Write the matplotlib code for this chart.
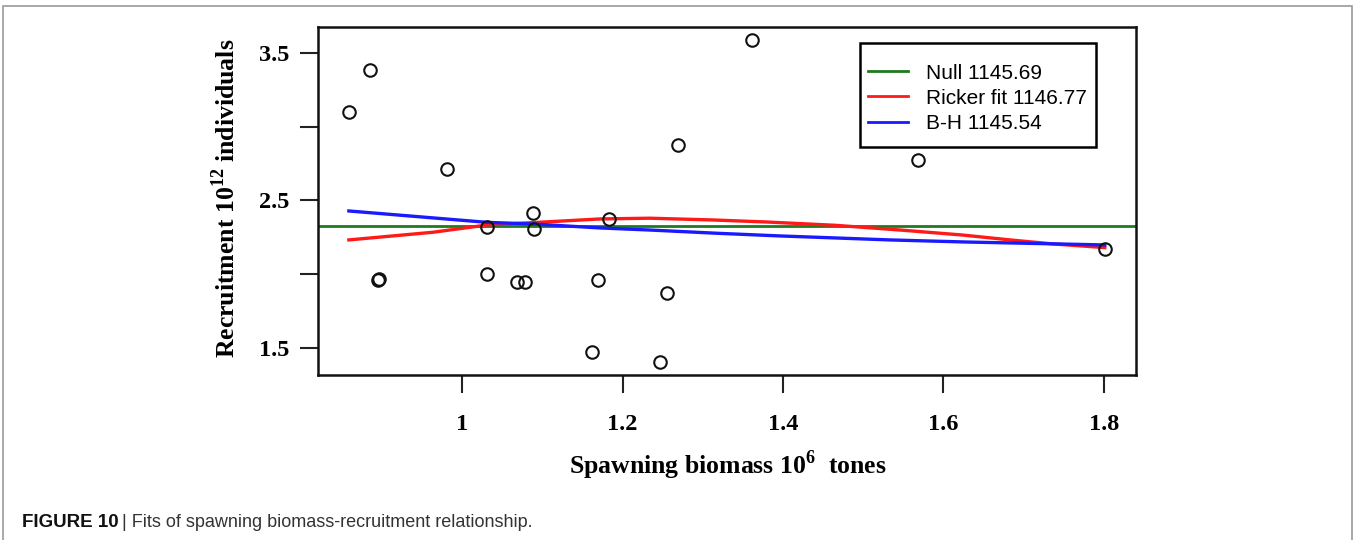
import matplotlib
matplotlib.use("Agg")
import matplotlib.pyplot as plt
from matplotlib.patches import Rectangle

# spawning biomass (10^6 t) and recruitment (10^12 ind.)
biomass = [0.859, 0.885, 0.895, 0.897, 0.981, 1.031, 1.031, 1.068, 1.079, 1.088,
           1.090, 1.162, 1.169, 1.183, 1.247, 1.255, 1.269, 1.361, 1.568, 1.801]
recruits = [3.098, 3.383, 1.964, 1.966, 2.712, 2.319, 2.001, 1.949, 1.949, 2.415,
            2.307, 1.473, 1.964, 2.377, 1.409, 1.872, 2.878, 3.586, 2.774, 2.170]

null_level = 2.325

ricker_x = [0.859, 0.964, 1.031, 1.088, 1.172, 1.234, 1.313, 1.381, 1.465, 1.546,
            1.624, 1.683, 1.736, 1.801]
ricker_y = [2.233, 2.285, 2.334, 2.350, 2.375, 2.380, 2.368, 2.354, 2.332, 2.300,
            2.266, 2.233, 2.206, 2.181]

bh_x = [0.859, 1.031, 1.088, 1.172, 1.234, 1.318, 1.396, 1.467, 1.533, 1.627,
        1.741, 1.801]
bh_y = [2.429, 2.352, 2.341, 2.314, 2.300, 2.278, 2.260, 2.246, 2.233, 2.219,
        2.206, 2.199]

legend_labels = ["Null 1145.69", "Ricker fit 1146.77", "B-H 1145.54"]
yticks = [1.5, 2.0, 2.5, 3.0, 3.5]
ytick_labels = ["1.5", "", "2.5", "", "3.5"]
xticks = [1.0, 1.2, 1.4, 1.6, 1.8]
xtick_labels = ["1", "1.2", "1.4", "1.6", "1.8"]

plt.rcParams["mathtext.fontset"] = "custom"
plt.rcParams["mathtext.rm"] = "Liberation Serif:bold"
plt.rcParams["mathtext.bf"] = "Liberation Serif:bold"

tick_font = {"family": "Liberation Serif", "weight": "bold", "size": 17.5}
label_font = {"family": "Liberation Serif", "weight": "bold", "size": 18.5}

fig = plt.figure(figsize=(13.54, 5.40), dpi=100)
ax = fig.add_axes([0.2349, 0.3056, 0.6041, 0.6444])

# grey frame round the whole figure
fig.patches.append(Rectangle((3 / 1354, -0.01), 1349 / 1354, 1 - 6 / 540 + 0.01,
                             transform=fig.transFigure, fill=False,
                             edgecolor="#9a9a9a", lw=1.2))

l1 = ax.axhline(null_level, color="#1f7a1f", lw=2.0)
l2, = ax.plot(ricker_x, ricker_y, color="#ff1a1a", lw=2.4)
l3, = ax.plot(bh_x, bh_y, color="#1a1aff", lw=2.4)
ax.plot(biomass, recruits, "o", mfc="none", mec="#111", ms=9, mew=1.5)

ax.set_xlim(0.8206, 1.8399)
ax.set_ylim(1.319, 3.674)

ax.set_xticks(xticks)
ax.set_xticklabels(xtick_labels, fontdict=tick_font)
ax.set_yticks(yticks)
ax.set_yticklabels(ytick_labels, fontdict=tick_font)
ax.tick_params(axis="both", direction="out", length=13, width=1.5, color="#222")
ax.tick_params(axis="x", pad=15)
ax.tick_params(axis="y", pad=8)
for s in ax.spines.values():
    s.set_linewidth(1.8)
    s.set_color("#111")

ax.set_xlabel(r"Spawning biomass 10$^{6}$  tones", fontdict=label_font)
ax.xaxis.set_label_coords(0.501, -0.21)
ax.set_ylabel(r"Recruitment 10$^{12}$ individuals", fontdict=label_font)
ax.yaxis.set_label_coords(-0.095, 0.509)

leg = ax.legend([l1, l2, l3], legend_labels, loc="upper left",
                bbox_to_anchor=(0.6724, 0.895), frameon=False, borderpad=0,
                borderaxespad=0, handlelength=1.9, handletextpad=0.9,
                labelspacing=0.3, prop={"family": "Liberation Sans", "size": 15})
for h in leg.get_lines():
    h.set_linewidth(2.0)
ax.add_patch(Rectangle((0.6626, 0.655), 0.2886, 0.299, transform=ax.transAxes,
                       fill=False, edgecolor="black", lw=1.8, zorder=5))

# caption below the plot
cap1 = fig.text(22 / 1354, 1 - 527 / 540, "FIGURE 10", family="Liberation Sans",
                weight="bold", size=13.5, color="#111", va="baseline")
fig.canvas.draw()
bb = cap1.get_window_extent()
fig.text((bb.x1 + 3) / 1354, 1 - 527 / 540,
         "| Fits of spawning biomass-recruitment relationship.",
         family="Liberation Sans", size=13, color="#333", va="baseline")

fig.savefig("out.png", dpi=100)
